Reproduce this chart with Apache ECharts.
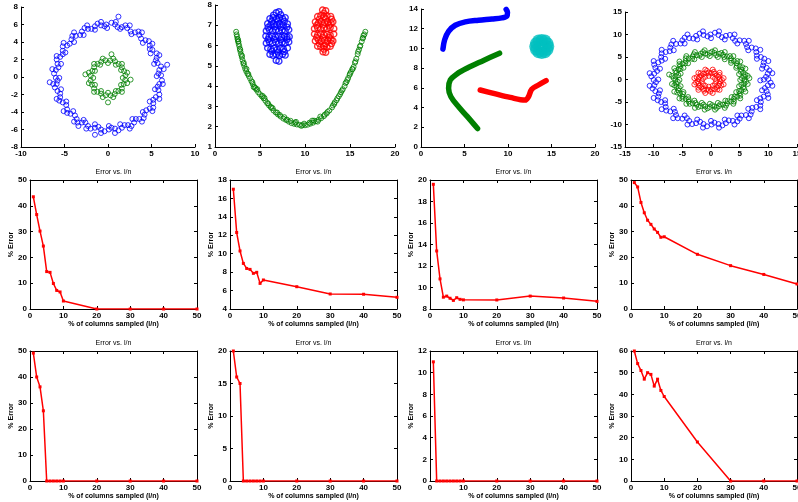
<!DOCTYPE html>
<html><head><meta charset="utf-8">
<script src="https://cdn.jsdelivr.net/npm/echarts@6/dist/echarts.min.js"></script>
<style>html,body{margin:0;padding:0;background:#fff}#c{width:798px;height:502px}</style>
</head><body><div id="c"></div>
<script>
// ---------- DATA ----------
// Panel 1: two concentric rings
const ringA_outer = [
 [6.1,0.2],[5.9,0.8],[5.7,1.6],[5.6,2.2],[5.1,3.1],[4.8,3.6],[4.3,4.2],[3.6,4.8],[3.1,5.1],[2.2,5.6],[1.6,5.7],[0.8,6.0],
 [5.6,0.1],[5.3,1.5],[4.9,2.7],[4.0,3.9],[2.7,4.9],[1.4,5.5],
 [6.4,0.9],[5.9,2.5],[5.1,3.8],[3.9,5.1],[2.5,5.9],[0.9,6.3],[6.8,1.4],[1.2,6.9],
 [-0.2,6.0],[-0.8,5.9],[-1.5,5.8],[-2.3,5.5],[-3.0,5.2],[-3.7,4.7],[-4.2,4.3],[-4.7,3.6],[-5.2,3.0],[-5.5,2.3],[-5.8,1.5],[-6.0,0.8],
 [-0.1,5.6],[-1.5,5.4],[-2.8,4.8],[-3.9,4.0],[-4.9,2.8],[-5.4,1.5],
 [-0.8,6.3],[-2.4,5.9],[-3.9,5.1],[-5.1,3.9],[-5.9,2.4],[-6.4,0.9],
 [-6.0,-0.1],[-5.9,-0.8],[-5.8,-1.6],[-5.5,-2.3],[-5.2,-2.9],[-4.7,-3.7],[-4.3,-4.2],[-3.6,-4.8],[-3.0,-5.2],[-2.3,-5.6],[-1.5,-5.8],[-0.8,-6.0],
 [-5.6,-0.1],[-5.4,-1.4],[-4.8,-2.8],[-4.0,-3.9],[-2.8,-4.9],[-1.5,-5.4],
 [-6.3,-0.8],[-5.9,-2.5],[-5.1,-3.9],[-3.9,-5.1],[-2.5,-5.9],[-0.8,-6.4],[-6.7,-0.6],[-3.4,-5.6],
 [0.1,-6.0],[0.8,-5.9],[1.6,-5.8],[2.3,-5.5],[3.0,-5.2],[3.6,-4.8],[4.2,-4.3],[4.8,-3.6],[5.2,-3.0],[5.5,-2.3],[5.8,-1.5],[5.9,-0.8],
 [0.1,-5.6],[1.4,-5.4],[2.8,-4.8],[4.0,-4.0],[4.8,-2.8],[5.4,-1.4],
 [0.8,-6.4],[2.5,-5.9],[3.9,-5.1],[5.1,-3.9],[5.9,-2.5],[6.3,-0.8],[-1.5,-6.6],
 [5.8,0.4],[6.1,1.2],[5.5,1.9],[5.6,2.7],[4.8,3.2],[4.7,4.1],[3.8,4.4],[3.5,5.2],[2.6,5.2],[2.0,5.9],[1.1,5.7],[0.4,6.2],
 [-0.4,5.8],[-1.2,6.1],[-1.9,5.5],[-2.7,5.6],[-3.2,4.8],[-4.1,4.7],[-4.4,3.8],[-5.2,3.5],[-5.2,2.6],[-5.9,2.0],[-5.7,1.1],[-6.2,0.4],
 [-5.8,-0.4],[-6.1,-1.2],[-5.5,-1.9],[-5.6,-2.7],[-4.8,-3.2],[-4.7,-4.1],[-3.8,-4.4],[-3.5,-5.2],[-2.6,-5.2],[-2.0,-5.9],[-1.1,-5.7],[-0.4,-6.2],
 [0.4,-5.8],[1.2,-6.1],[1.9,-5.5],[2.7,-5.6],[3.2,-4.8],[4.1,-4.7],[4.4,-3.8],[5.2,-3.5],[5.2,-2.6],[5.9,-2.0],[5.7,-1.1],[6.2,-0.4]
];
const ringA_inner = [
 [1.7,-0.1],[2.2,0.5],[1.5,0.8],[1.6,1.5],[0.9,1.4],[0.6,2.1],[2.0,0.2],[1.6,1.1],[0.8,1.8],
 [0.0,1.6],[-0.6,2.1],[-0.9,1.4],[-1.6,1.5],[-1.5,0.7],[-2.2,0.5],[-0.3,1.9],[-1.2,1.5],[-1.8,0.7],
 [-1.7,-0.1],[-2.2,-0.7],[-1.5,-0.9],[-1.6,-1.7],[-0.8,-1.6],[-0.6,-2.3],[-2.0,-0.4],[-1.6,-1.3],[-0.8,-1.9],
 [0.0,-1.8],[0.6,-2.3],[0.9,-1.6],[1.6,-1.7],[1.5,-0.9],[2.2,-0.7],[0.3,-2.1],[1.2,-1.6],[1.8,-0.8],
 [2.6,-0.3],[-2.6,0.3],[0.0,-2.9],[0.4,2.6],
 [1.85,0.67],[1.22,1.49],[0.26,1.88],[-0.77,1.75],[-1.59,1.12],[-1.98,0.16],
 [-1.85,-0.87],[-1.22,-1.69],[-0.26,-2.08],[0.77,-1.95],[1.59,-1.32],[1.98,-0.36]
];
// Panel 2: smiley
const smileMouth = [
 [2.35,6.68],[2.4,6.55],[2.45,6.45],[2.5,6.33],[2.57,6.2],[2.63,6.08],[2.7,5.97],[2.76,5.84],[2.83,5.7],[2.9,5.56],
 [2.98,5.43],[3.06,5.28],[3.15,5.12],[3.25,5.0],[3.35,4.86],[3.47,4.74],[3.6,4.62],[3.75,4.5],[3.9,4.38],[4.05,4.24],
 [4.2,4.1],[4.4,3.96],[4.6,3.82],[4.8,3.7],[5.0,3.6],[5.2,3.5],[5.4,3.4],[5.6,3.28],[5.8,3.16],[6.0,3.05],
 [6.25,2.93],[6.5,2.8],[6.75,2.7],[7.0,2.6],[7.3,2.5],[7.6,2.4],[7.9,2.33],[8.2,2.25],[8.5,2.18],[8.8,2.14],
 [9.1,2.11],[9.4,2.09],[9.7,2.08],[10.0,2.07],[10.3,2.1],[10.6,2.15],[10.9,2.2],[11.2,2.27],[11.5,2.34],[11.8,2.42],
 [12.1,2.52],[12.4,2.65],[12.7,2.8],[13.0,2.95],[13.25,3.12],[13.5,3.3],[13.75,3.5],[14.0,3.7],[14.2,3.85],[14.4,4.0],
 [14.6,4.2],[14.8,4.4],[14.95,4.55],[15.1,4.7],[15.25,4.83],[15.4,4.95],[15.55,5.15],[15.7,5.35],[15.85,5.58],[16.0,5.8],
 [16.15,6.0],[16.3,6.2],[16.45,6.38],[16.6,6.55],[16.7,6.68],
 [3.0,5.5],[3.5,4.85],[4.3,3.95],[5.3,3.52],[6.2,2.98],[7.2,2.58],[8.0,2.35],[8.9,2.2],[9.6,2.04],[10.5,2.2],
 [11.4,2.25],[12.2,2.6],[13.1,3.05],[13.9,3.6],[14.5,4.15],[15.3,4.85],[15.9,5.7],[16.5,6.5],[5.9,3.15],[11.0,2.3],[4.5,3.9],[2.6,6.2],
 [2.55,6.3],[2.8,5.8],[3.2,5.15],[3.7,4.6],[4.15,4.2],[4.7,3.85],[5.5,3.42],[6.4,2.92],[6.9,2.7],[7.7,2.47],[8.4,2.29],[9.0,2.24],
 [9.9,2.15],[10.8,2.3],[11.7,2.5],[12.5,2.73],[13.3,3.2],[13.6,3.4],[14.1,3.78],[14.7,4.3],[15.0,4.62],[15.6,5.22],[16.1,5.95],[16.4,6.35]
];
const smileEyeLeft = [
 [6.8,5.27],[7.1,5.23],
 [6.1,5.57],[6.45,5.52],[6.8,5.56],[7.15,5.51],[7.5,5.57],[7.8,5.53],
 [5.85,5.88],[6.2,5.82],[6.55,5.86],[6.9,5.8],[7.25,5.87],[7.6,5.83],[8.05,5.88],
 [5.7,6.12],[6.05,6.18],[6.4,6.13],[6.75,6.17],[7.1,6.11],[7.45,6.16],[7.8,6.12],[8.2,6.18],
 [5.65,6.47],[6.0,6.42],[6.35,6.48],[6.7,6.43],[7.05,6.46],[7.4,6.41],[7.75,6.47],[8.0,6.42],[8.25,6.44],
 [5.7,6.72],[6.05,6.78],[6.4,6.73],[6.75,6.77],[7.1,6.71],[7.45,6.76],[7.8,6.72],[8.2,6.78],
 [5.85,7.08],[6.2,7.02],[6.55,7.07],[6.9,7.03],[7.25,7.06],[7.6,7.01],[8.05,7.07],
 [6.1,7.33],[6.45,7.38],[6.8,7.32],[7.15,7.37],[7.5,7.34],[7.8,7.38],
 [6.8,7.62],[7.1,7.67],
 [6.3,5.72],[7.0,5.68],[7.7,5.7],[5.9,6.3],[6.6,6.31],[7.3,6.29],[8.0,6.3],
 [5.9,6.9],[6.6,6.92],[7.3,6.9],[8.0,6.91],[6.3,7.2],[7.0,7.21],[7.7,7.2],[6.5,7.5],[7.3,7.52]
];
const smileEyeRight = [
 [12.0,5.69],[12.3,5.67],
 [11.4,5.97],[11.75,5.93],[12.1,5.98],[12.45,5.92],[12.8,5.96],
 [11.15,6.23],[11.5,6.28],[11.85,6.22],[12.2,6.27],[12.55,6.24],[12.9,6.29],[13.1,6.23],
 [11.05,6.57],[11.4,6.52],[11.75,6.58],[12.1,6.53],[12.45,6.56],[12.8,6.51],[13.2,6.57],
 [11.05,6.83],[11.4,6.88],[11.75,6.82],[12.1,6.87],[12.45,6.84],[12.8,6.89],[13.2,6.83],
 [11.15,7.17],[11.5,7.12],[11.85,7.18],[12.2,7.13],[12.55,7.16],[12.9,7.11],[13.1,7.17],
 [11.4,7.43],[11.75,7.48],[12.1,7.42],[12.45,7.47],[12.85,7.44],
 [11.95,7.75],[12.3,7.72],
 [11.6,6.1],[12.3,6.1],[12.95,6.1],[11.3,6.4],[12.0,6.41],[12.7,6.4],
 [11.3,7.0],[12.0,7.01],[12.7,7.0],[11.6,7.3],[12.3,7.31],[12.95,7.3],[12.1,7.6],[12.1,5.82]
];
// Panel 3: curves and blob
const curveBlue  = [[2.52,9.93],[2.72,10.88],[3.17,11.73],[3.94,12.35],[5.09,12.69],[6.62,12.86],[8.15,12.99],[9.29,13.1],[9.87,13.27],[9.94,13.67],[9.79,13.95]];
const curveGreen = [[9.03,9.52],[7.19,8.78],[5.28,7.99],[4.13,7.41],[3.37,6.8],[3.17,5.95],[3.44,5.1],[4.32,4.08],[5.28,3.13],[6.5,1.87]];
const curveRed   = [[6.81,5.78],[8.34,5.44],[10.25,5.03],[11.97,4.76],[12.35,5.1],[12.73,5.85],[13.5,6.29],[14.38,6.73]];
const blobCyan   = [[13.88,10.2],[13.13,10.2],[14.63,10.2],[13.5,10.8],[14.26,10.8],[13.5,9.6],[14.26,9.6],
                    [14.53,10.53],[13.88,10.86],[13.23,10.53],[13.23,9.87],[13.88,9.54],[14.53,9.87]];
// Panel 4: three concentric rings
const ringB_outer = [
 [10.0,0.1],[9.9,1.3],[9.7,2.6],[9.2,3.8],[8.7,5.0],[7.9,6.1],[7.1,7.1],[6.1,7.9],[5.0,8.7],[3.8,9.2],[2.6,9.7],[1.3,9.9],
 [9.2,0.0],[8.9,2.4],[8.0,4.6],[6.5,6.5],[4.6,8.0],[2.4,8.9],
 [10.7,1.4],[10.0,4.1],[8.6,6.6],[6.6,8.6],[4.1,10.0],[1.4,10.7],
 [-0.1,10.0],[-1.3,9.9],[-2.6,9.7],[-3.8,9.2],[-5.0,8.7],[-6.1,7.9],[-7.1,7.1],[-7.9,6.1],[-8.7,5.0],[-9.2,3.8],[-9.7,2.6],[-9.9,1.3],
 [0.0,9.2],[-2.4,8.9],[-4.6,8.0],[-6.5,6.5],[-8.0,4.6],[-8.9,2.4],
 [-1.4,10.7],[-4.1,10.0],[-6.6,8.6],[-8.6,6.6],[-10.0,4.1],[-10.7,1.4],
 [-10.0,-0.1],[-9.9,-1.3],[-9.7,-2.6],[-9.2,-3.8],[-8.7,-5.0],[-7.9,-6.1],[-7.1,-7.1],[-6.1,-7.9],[-5.0,-8.7],[-3.8,-9.2],[-2.6,-9.7],[-1.3,-9.9],
 [-9.2,0.0],[-8.9,-2.4],[-8.0,-4.6],[-6.5,-6.5],[-4.6,-8.0],[-2.4,-8.9],
 [-10.7,-1.4],[-10.0,-4.1],[-8.6,-6.6],[-6.6,-8.6],[-4.1,-10.0],[-1.4,-10.7],
 [0.1,-10.0],[1.3,-9.9],[2.6,-9.7],[3.8,-9.2],[5.0,-8.7],[6.1,-7.9],[7.1,-7.1],[7.9,-6.1],[8.7,-5.0],[9.2,-3.8],[9.7,-2.6],[9.9,-1.3],
 [0.0,-9.2],[2.4,-8.9],[4.6,-8.0],[6.5,-6.5],[8.0,-4.6],[8.9,-2.4],
 [1.4,-10.7],[4.1,-10.0],[6.6,-8.6],[8.6,-6.6],[10.0,-4.1],[10.7,-1.4],[8.6,-0.2],
 [9.6,0.6],[10.2,2.0],[9.1,3.1],[9.3,4.6],[8.0,5.3],[7.8,6.9],[6.3,7.2],[5.8,8.6],[4.2,8.6],[3.3,9.9],[1.9,9.4],[0.7,10.4],
 [-0.6,9.6],[-2.0,10.2],[-3.1,9.1],[-4.6,9.3],[-5.3,8.0],[-6.9,7.8],[-7.2,6.3],[-8.6,5.8],[-8.6,4.2],[-9.9,3.3],[-9.4,1.9],[-10.4,0.7],
 [-9.6,-0.6],[-10.2,-2.0],[-9.1,-3.1],[-9.3,-4.6],[-8.0,-5.3],[-7.8,-6.9],[-6.3,-7.2],[-5.8,-8.6],[-4.2,-8.6],[-3.3,-9.9],[-1.9,-9.4],[-0.7,-10.4],
 [0.6,-9.6],[2.0,-10.2],[3.1,-9.1],[4.6,-9.3],[5.3,-8.0],[6.9,-7.8],[7.2,-6.3],[8.6,-5.8],[8.6,-4.2],[9.9,-3.3],[9.4,-1.9],[10.4,-0.7]
];
const ringB_middle = [
 [5.8,-0.1],[5.8,0.7],[5.6,1.5],[5.3,2.2],[5.0,2.9],[4.5,3.6],[4.0,4.1],[3.5,4.7],[2.8,5.1],[2.1,5.5],[1.4,5.7],[0.6,5.9],
 [5.1,-0.1],[4.9,1.2],[4.4,2.6],[3.5,3.7],[2.4,4.5],[1.2,5.0],
 [6.4,0.8],[6.0,2.4],[5.1,4.0],[3.9,5.2],[2.4,6.1],[0.7,6.5],
 [-0.2,5.9],[-1.0,5.8],[-1.8,5.7],[-2.5,5.4],[-3.2,5.1],[-3.9,4.7],[-4.4,4.1],[-5.0,3.5],[-5.4,2.9],[-5.7,2.2],[-6.0,1.5],[-6.2,0.7],
 [-0.2,5.2],[-1.6,5.0],[-2.9,4.5],[-4.0,3.6],[-4.8,2.6],[-5.3,1.3],
 [-1.1,6.5],[-2.8,6.1],[-4.3,5.2],[-5.5,4.0],[-6.4,2.5],[-6.8,0.8],[-7.3,1.1],
 [-6.2,-0.1],[-6.1,-0.9],[-6.0,-1.6],[-5.7,-2.4],[-5.4,-3.1],[-5.0,-3.8],[-4.4,-4.3],[-3.9,-4.9],[-3.2,-5.3],[-2.5,-5.6],[-1.8,-5.9],[-1.0,-6.0],
 [-5.5,-0.1],[-5.3,-1.5],[-4.8,-2.8],[-4.0,-3.9],[-2.9,-4.7],[-1.6,-5.2],
 [-6.8,-1.0],[-6.4,-2.7],[-5.5,-4.2],[-4.3,-5.4],[-2.8,-6.3],[-1.1,-6.7],
 [-0.2,-6.1],[0.6,-6.0],[1.4,-5.9],[2.1,-5.6],[2.8,-5.3],[3.5,-4.9],[4.0,-4.3],[4.6,-3.8],[5.0,-3.1],[5.3,-2.4],[5.6,-1.7],[5.8,-0.9],
 [-0.2,-5.4],[1.2,-5.2],[2.5,-4.7],[3.6,-3.9],[4.4,-2.8],[4.9,-1.5],
 [0.7,-6.7],[2.4,-6.3],[3.9,-5.4],[5.1,-4.2],[6.0,-2.7],[6.4,-1.0],[6.7,0.3],
 [5.4,0.3],[6.0,1.1],[5.2,1.7],[5.5,2.7],[4.5,3.0],[4.6,4.1],[3.5,4.2],[3.3,5.2],[2.3,5.0],[1.8,5.9],[0.9,5.4],[0.2,6.2],
 [-0.6,5.5],[-1.4,6.1],[-2.0,5.3],[-3.0,5.6],[-3.3,4.6],[-4.4,4.7],[-4.5,3.6],[-5.5,3.4],[-5.3,2.4],[-6.2,1.9],[-5.7,1.0],[-6.5,0.3],
 [-5.8,-0.5],[-6.4,-1.3],[-5.6,-1.9],[-5.9,-2.9],[-4.9,-3.2],[-5.0,-4.3],[-3.9,-4.4],[-3.7,-5.4],[-2.7,-5.2],[-2.2,-6.1],[-1.3,-5.6],[-0.6,-6.4],
 [0.2,-5.7],[1.0,-6.3],[1.6,-5.5],[2.6,-5.8],[2.9,-4.8],[4.0,-4.9],[4.1,-3.8],[5.1,-3.6],[4.9,-2.6],[5.8,-2.1],[5.3,-1.2],[6.1,-0.5]
];
const ringB_inner = [
 [1.6,-0.4],[1.5,0.1],[1.3,0.6],[1.0,0.9],[0.6,1.3],[0.1,1.4],
 [-0.4,1.5],[-0.8,1.4],[-1.3,1.3],[-1.7,0.9],[-2.0,0.6],[-2.2,0.1],
 [-2.3,-0.4],[-2.2,-0.9],[-2.0,-1.4],[-1.7,-1.7],[-1.3,-2.1],[-0.8,-2.2],
 [-0.4,-2.3],[0.1,-2.2],[0.6,-2.1],[1.0,-1.7],[1.3,-1.4],[1.5,-0.9],
 [0.9,-0.4],[0.7,0.2],[0.3,0.6],[-0.4,0.8],[-1.0,0.6],[-1.4,0.2],
 [-1.6,-0.4],[-1.4,-1.0],[-1.0,-1.4],[-0.4,-1.6],[0.3,-1.4],[0.7,-1.0],
 [2.2,0.3],[1.5,1.5],[0.3,2.2],[-1.0,2.2],[-2.2,1.5],[-2.9,0.3],
 [-2.9,-1.1],[-2.2,-2.3],[-1.0,-3.0],[0.3,-3.0],[1.5,-2.3],[2.2,-1.1],
 [1.9,-0.1],[1.5,1.0],[0.5,1.7],[-0.7,1.9],[-1.8,1.4],[-2.5,0.5],
 [-2.6,-0.7],[-2.2,-1.8],[-1.2,-2.5],[-0.1,-2.7],[1.1,-2.2],[1.8,-1.3]
];
// Panels 5-12: error vs. l/n
const pctSampled = [1,2,3,4,5,6,7,8,9,10,20,30,40,50];
const errA1 = [43.5,36.6,30.2,24.4,14.5,14.2,9.9,7.2,6.6,3.1,0,0,0,0];
const errA2 = [17.0,12.3,10.3,8.95,8.4,8.3,7.87,7.98,6.78,7.15,6.42,5.63,5.6,5.27];
const errA3 = [19.6,13.4,10.8,9.1,9.2,9.0,8.8,9.05,8.9,8.85,8.84,9.2,9.02,8.71];
const errA4 = [49.0,47.3,41.3,37.3,34.4,32.8,31.0,29.7,27.8,28.0,21.2,16.8,13.4,9.7];
const errB1 = [49.2,40,36.2,27,0,0,0,0,0,0,0,0,0,0];
const errB2 = [20,16,15,0,0,0,0,0,0,0,0,0,0,0];
const errB3 = [11,0,0,0,0,0,0,0,0,0,0,0,0,0];
const errB4 = [60,54.2,51,47,50,49.2,43.8,47,41.8,39,18,0,0,0];
const titleText = 'Error vs. l/n';
const xLabelText = '% of columns sampled (l/n)';
const yLabelText = '% Error';

// ---------- CHART ----------
const FONT = '"Liberation Sans", Arial, Helvetica, sans-serif';
const grids = [], xAxes = [], yAxes = [], series = [];

function mkAxis(gi, pos, r, labels) {
  return {
    type: 'value', gridIndex: gi, position: pos, min: r[0], max: r[1], interval: r[2],
    axisLine: { show: true, onZero: false, lineStyle: { color: '#000', width: 1 } },
    axisTick: { show: true, inside: true, length: 3, lineStyle: { color: '#000', width: 1 } },
    axisLabel: { show: labels, color: '#000', fontSize: 8, fontWeight: 'bold', fontFamily: FONT, margin: 3 },
    splitLine: { show: false }
  };
}
function addPanel(rect, xr, yr, box) {
  const gi = grids.length;
  grids.push({ left: rect[0], top: rect[1], width: rect[2], height: rect[3], outerBoundsMode: 'none', containLabel: false });
  const xi = xAxes.length, yi = yAxes.length;
  const xb = mkAxis(gi, 'bottom', xr, true);
  const yl = mkAxis(gi, 'left', yr, true);
  xAxes.push(xb); yAxes.push(yl);
  if (box) {
    xb.name = xLabelText; xb.nameLocation = 'middle'; xb.nameGap = 10;
    xb.nameTextStyle = { fontSize: 7, fontWeight: 'bold', fontFamily: FONT, color: '#000' };
    yl.name = yLabelText; yl.nameLocation = 'middle'; yl.nameGap = 12;
    yl.nameTextStyle = { fontSize: 7, fontWeight: 'bold', fontFamily: FONT, color: '#000' };
    const xt = mkAxis(gi, 'top', xr, false);
    xt.name = titleText; xt.nameLocation = 'middle'; xt.nameGap = 4;
    xt.nameTextStyle = { fontSize: 7, fontWeight: 'normal', fontFamily: FONT, color: '#000' };
    xAxes.push(xt);
    yAxes.push(mkAxis(gi, 'right', yr, false));
  }
  return { xi, yi };
}
function scatter(p, data, color, size, filled, bw) {
  series.push({
    type: 'scatter', xAxisIndex: p.xi, yAxisIndex: p.yi, data: data, symbol: 'circle', symbolSize: size,
    silent: true,
    itemStyle: filled ? { color: color, borderWidth: 0 } : { color: 'rgba(0,0,0,0)', borderColor: color, borderWidth: bw || 1 }
  });
}
function thickCurve(p, data, color) {
  series.push({
    type: 'line', xAxisIndex: p.xi, yAxisIndex: p.yi, data: data, showSymbol: false, smooth: 0.35, silent: true,
    lineStyle: { color: color, width: 5.5, cap: 'round', join: 'round' }
  });
}
function errLine(p, ys) {
  series.push({
    type: 'line', xAxisIndex: p.xi, yAxisIndex: p.yi, data: pctSampled.map((x, i) => [x, ys[i]]),
    symbol: 'rect', symbolSize: 3, silent: true,
    lineStyle: { color: '#ff0000', width: 1.5 }, itemStyle: { color: '#ff0000' }
  });
}

const BLUE = '#0000ff', GREEN = '#008000', RED = '#ff0000', CYAN = '#00bfbf';

const p1 = addPanel([21, 7, 174, 140], [-10, 10, 5], [-8, 8, 2], false);
scatter(p1, ringA_outer, BLUE, 5, false);
scatter(p1, ringA_inner, GREEN, 5, false);

const p2 = addPanel([215, 5, 180, 142], [0, 20, 5], [1, 8, 1], false);
scatter(p2, smileMouth, GREEN, 5, false);
scatter(p2, smileEyeLeft, BLUE, 6, false, 1.4);
scatter(p2, smileEyeRight, RED, 6, false, 1.4);

const p3 = addPanel([421, 9, 174, 138], [0, 20, 5], [0, 14, 2], false);
thickCurve(p3, curveBlue, BLUE);
thickCurve(p3, curveGreen, GREEN);
thickCurve(p3, curveRed, RED);
scatter(p3, blobCyan, CYAN, 12, true);

const p4 = addPanel([625, 12, 172, 135], [-15, 15, 5], [-15, 15, 5], false);
scatter(p4, ringB_outer, BLUE, 5, false);
scatter(p4, ringB_middle, GREEN, 5, false);
scatter(p4, ringB_inner, RED, 5, false);

const midRects = [[30, 180, 167, 129], [230, 180, 167, 129], [430, 180, 167, 129], [631, 180, 166, 129]];
const botRects = [[30, 351, 167, 130], [230, 351, 167, 130], [430, 351, 167, 130], [631, 351, 166, 130]];
const xr = [0, 50, 10];
errLine(addPanel(midRects[0], xr, [0, 50, 10], true), errA1);
errLine(addPanel(midRects[1], xr, [4, 18, 2], true), errA2);
errLine(addPanel(midRects[2], xr, [8, 20, 2], true), errA3);
errLine(addPanel(midRects[3], xr, [0, 50, 10], true), errA4);
errLine(addPanel(botRects[0], xr, [0, 50, 10], true), errB1);
errLine(addPanel(botRects[1], xr, [0, 20, 5], true), errB2);
errLine(addPanel(botRects[2], xr, [0, 12, 2], true), errB3);
errLine(addPanel(botRects[3], xr, [0, 60, 10], true), errB4);

const chart = echarts.init(document.getElementById('c'), null, { renderer: 'canvas' });
chart.setOption({
  animation: false,
  backgroundColor: '#fff',
  textStyle: { fontFamily: FONT },
  grid: grids, xAxis: xAxes, yAxis: yAxes, series: series
});
</script>
</body></html>
